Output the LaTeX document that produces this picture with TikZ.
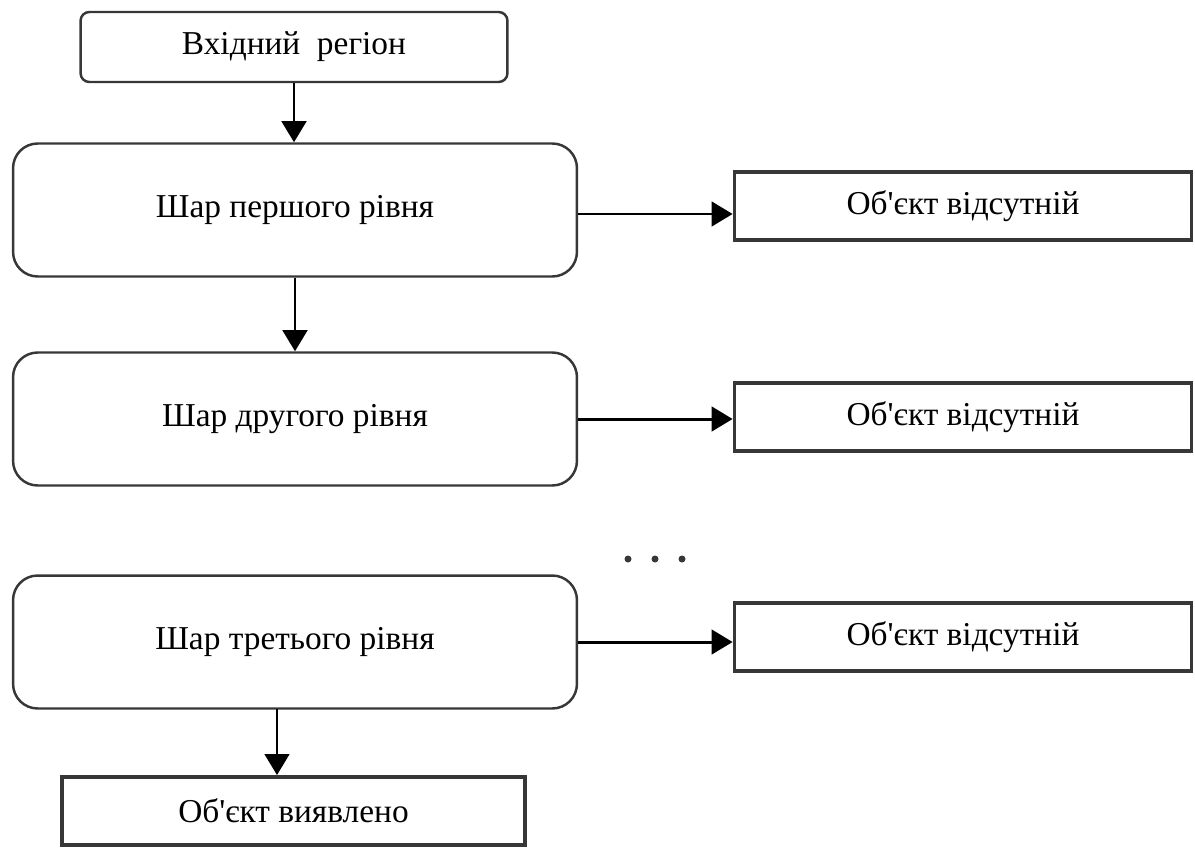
\documentclass[tikz,border=0pt]{standalone}
\usepackage{fontspec}
\setmainfont{Liberation Serif}
\usetikzlibrary{arrows.meta, positioning}
\definecolor{edge}{RGB}{55,55,55}
\newcommand{\apos}{\textquotesingle}
\tikzset{
  layer/.style={draw=edge, line width=1.4pt, rounded corners=14pt, minimum width=11.28cm, minimum height=2.66cm, font=\fontsize{19}{22}\selectfont},
  verdict/.style={draw=edge, line width=2.2pt, minimum width=9.14cm, minimum height=1.36cm, font=\fontsize{19}{22}\selectfont},
  flow/.style={-{Triangle[width=14pt,length=12pt]}, line width=1.7pt, draw=black}
}
\begin{document}
\begin{tikzpicture}[x=0.02cm, y=-0.02cm]
  \useasboundingbox (0,0) rectangle (1195,848);
  % boxes
  \node[layer, rounded corners=5pt, minimum width=8.54cm, minimum height=1.4cm] (in) at (294,47) {Вхідний\ \ регіон};
  \node[layer] (l1) at (295,210) {Шар першого рівня};
  \node[layer] (l2) at (295,419) {Шар другого рівня};
  \node[layer] (l3) at (295,642) {Шар третього рівня};
  \node[verdict] (r1) at (963,206) {Об\apos єкт відсутній};
  \node[verdict] (r2) at (963,417) {Об\apos єкт відсутній};
  \node[verdict] (r3) at (963,637) {Об\apos єкт відсутній};
  \node[verdict, minimum width=9.26cm] (out) at (293.5,811) {Об\apos єкт виявлено};
  \coordinate (down) at (277,709);
  % arrows
  \draw[flow] (in.south) -- (in.south |- l1.north);
  \draw[flow] (l1.south) -- (l2.north);
  \draw[flow] (down) -- (down |- out.north);
  \draw[flow] ([yshift=-0.08cm]l1.east) -- ([yshift=-0.08cm]l1.east -| r1.west);
  \draw[flow] (l2.east) -- (l2.east -| r2.west);
  \draw[flow] (l3.east) -- (l3.east -| r3.west);
  % dots
  \foreach \x in {628,655,682}
    \fill[edge] (\x,559) circle (3.5);
\end{tikzpicture}
\end{document}
